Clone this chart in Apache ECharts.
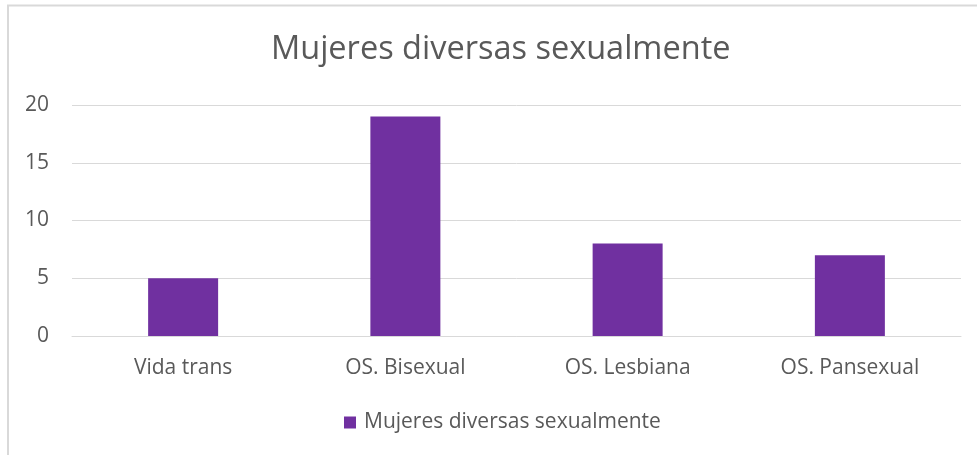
<!DOCTYPE html>
<html>
<head>
<meta charset="utf-8">
<script src="https://cdn.jsdelivr.net/npm/echarts@6/dist/echarts.min.js"></script>
<style>
  html, body { margin: 0; padding: 0; background: #fff; }
  #chart { width: 977px; height: 455px; }
</style>
</head>
<body>
<div id="chart"></div>
<script>
// datos del gráfico
var titulo = 'Mujeres diversas sexualmente';
var categorias = ['Vida trans', 'OS. Bisexual', 'OS. Lesbiana', 'OS. Pansexual'];
var valores = [5, 19, 8, 7];
var yTicks = [0, 5, 10, 15, 20];

var fuente = '"Open Sans", "Liberation Sans", sans-serif';
var gris = '#595959';

var chart = echarts.init(document.getElementById('chart'));

chart.setOption({
  animation: false,
  title: {
    text: titulo,
    left: 271,
    top: 33,
    padding: 0,
    textStyle: { color: gris, fontSize: 32.5, fontWeight: 'normal', fontFamily: fuente }
  },
  // borde gris del área del gráfico
  graphic: [{
    type: 'polyline',
    shape: { points: [[8, 460], [8, 5.5], [980, 5.5]] },
    style: { stroke: '#d9d9d9', lineWidth: 2, fill: null }
  }],
  legend: {
    bottom: 22,
    left: 344,
    padding: 0,
    itemWidth: 12,
    itemHeight: 12,
    icon: 'rect',
    textStyle: { color: gris, fontSize: 21, fontFamily: fuente, padding: [0, 0, 0, 3] },
    data: [titulo]
  },
  grid: { left: 72, right: 16, top: 105, bottom: 119, containLabel: false },
  xAxis: {
    type: 'category',
    data: categorias,
    axisLine: { lineStyle: { color: '#d9d9d9', width: 1 } },
    axisTick: { show: false },
    axisLabel: { color: gris, fontSize: 21, fontFamily: fuente, margin: 22 }
  },
  yAxis: {
    type: 'value',
    min: yTicks[0],
    max: yTicks[yTicks.length - 1],
    interval: 5,
    axisLine: { show: false },
    axisTick: { show: false },
    splitLine: { lineStyle: { color: '#d9d9d9', width: 1 } },
    axisLabel: { color: gris, fontSize: 21, fontFamily: fuente, margin: 23 }
  },
  series: [{
    name: titulo,
    type: 'bar',
    data: valores,
    barWidth: 70,
    itemStyle: { color: '#7030a0' }
  }]
});
</script>
</body>
</html>
